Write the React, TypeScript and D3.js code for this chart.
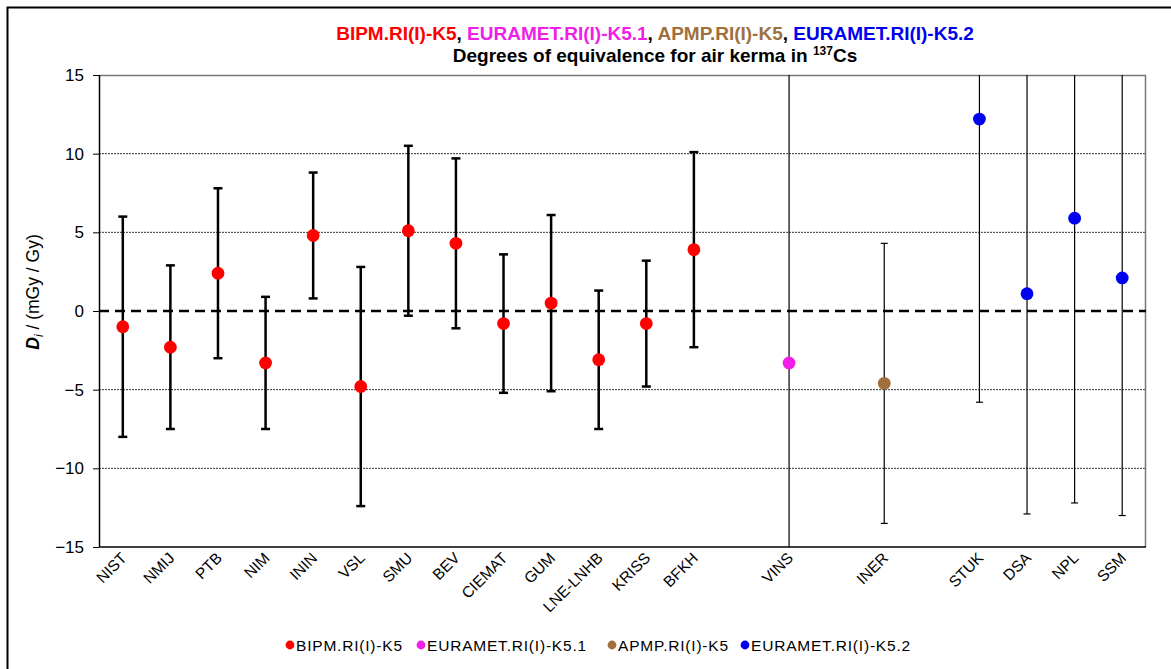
import React, { useEffect, useRef } from 'react';
import * as d3 from 'd3';

// x slots (blank entries are spacers between comparisons)
const slots = ['NIST', 'NMIJ', 'PTB', 'NIM', 'ININ', 'VSL', 'SMU', 'BEV', 'CIEMAT', 'GUM', 'LNE-LNHB', 'KRISS', 'BFKH', ' ', 'VINS', '  ', 'INER', '   ', 'STUK', 'DSA', 'NPL', 'SSM'];

const labs = ['NIST', 'NMIJ', 'PTB', 'NIM', 'ININ', 'VSL', 'SMU', 'BEV', 'CIEMAT', 'GUM', 'LNE-LNHB', 'KRISS', 'BFKH', 'VINS', 'INER', 'STUK', 'DSA', 'NPL', 'SSM'];
const dValues = [-1.0, -2.3, 2.4, -3.3, 4.8, -4.8, 5.1, 4.3, -0.8, 0.5, -3.1, -0.8, 3.9, -3.3, -4.6, 12.2, 1.1, 5.9, 2.1];
const uValues = [7.0, 5.2, 5.4, 4.2, 4.0, 7.6, 5.4, 5.4, 4.4, 5.6, 4.4, 4.0, 6.2, 25.0, 8.9, 18.0, 14.0, 18.1, 15.1];
const groupOf = [0, 0, 0, 0, 0, 0, 0, 0, 0, 0, 0, 0, 0, 1, 2, 3, 3, 3, 3];

const comparisons = ['BIPM.RI(I)-K5', 'EURAMET.RI(I)-K5.1', 'APMP.RI(I)-K5', 'EURAMET.RI(I)-K5.2'];
const compColors = ['#ff0000', '#f01ee6', '#a0703c', '#0000f0'];
const yTicks = [-15, -10, -5, 0, 5, 10, 15];

function App() {
  const ref = useRef<SVGSVGElement>(null);

  useEffect(() => {
    const svg = d3.select(ref.current);
    svg.selectAll('*').remove();
    const font = '"Liberation Sans", Arial, sans-serif';

    const left = 99, right = 1146, top = 75, bottom = 547;
    const x = d3.scaleBand().domain(slots).range([left, right]).padding(0);
    const y = d3.scaleLinear().domain([-15, 15]).range([bottom, top]);
    const cx = (s: string) => (x(s) as number) + x.bandwidth() / 2;

    svg.append('rect').attr('x', 0).attr('y', 0).attr('width', 1171).attr('height', 669).attr('fill', '#fff');
    // outer frame (top/left edges visible)
    svg.append('path').attr('d', 'M7.5,669 V7.5 H1171').attr('fill', 'none').attr('stroke', '#000').attr('stroke-width', 2);

    svg.append('defs').append('clipPath').attr('id', 'plotclip')
      .append('rect').attr('x', left).attr('y', top).attr('width', right - left).attr('height', bottom - top);

    // gridlines
    svg.append('g').selectAll('line')
      .data(yTicks.filter(t => t !== 0 && Math.abs(t) !== 15))
      .enter().append('line')
      .attr('x1', left).attr('x2', right)
      .attr('y1', d => y(d)).attr('y2', d => y(d))
      .attr('stroke', '#333').attr('stroke-width', 1).attr('stroke-dasharray', '2,1');

    // frame
    svg.append('line').attr('x1', left).attr('x2', right).attr('y1', top + 0.5).attr('y2', top + 0.5).attr('stroke', '#777').attr('stroke-width', 1.5);
    svg.append('line').attr('x1', right - 0.5).attr('x2', right - 0.5).attr('y1', top).attr('y2', bottom).attr('stroke', '#777').attr('stroke-width', 1.5);

    // zero line
    svg.append('line').attr('x1', left).attr('x2', right).attr('y1', y(0)).attr('y2', y(0))
      .attr('stroke', '#000').attr('stroke-width', 2.5).attr('stroke-dasharray', '10,6');

    // y axis
    const yAxis = svg.append('g').attr('transform', `translate(${left},0)`)
      .call(d3.axisLeft(y).tickValues(yTicks).tickSize(6).tickPadding(9).tickFormat(d3.format('d')));
    yAxis.select('.domain').remove();
    yAxis.selectAll('line').attr('stroke', '#000');
    yAxis.selectAll('text').attr('font-family', font).attr('font-size', 17).attr('fill', '#000');
    svg.append('line').attr('x1', left + 0.5).attr('x2', left + 0.5).attr('y1', top).attr('y2', bottom).attr('stroke', '#000').attr('stroke-width', 1.5);

    // x axis
    svg.append('line').attr('x1', left).attr('x2', right).attr('y1', bottom).attr('y2', bottom).attr('stroke', '#000').attr('stroke-width', 1.5);
    svg.append('g').selectAll('text')
      .data(slots.filter(s => s.trim() !== ''))
      .enter().append('text')
      .attr('transform', d => `translate(${cx(d) + 5},${bottom + 12}) rotate(-45)`)
      .attr('text-anchor', 'end')
      .attr('font-family', font).attr('font-size', 15.5).attr('fill', '#000')
      .text(d => d);

    // error bars
    const eb = svg.append('g').attr('clip-path', 'url(#plotclip)');
    labs.forEach((lab, i) => {
      const thick = groupOf[i] === 0;
      const sw = thick ? 2.5 : 1.2;
      const cap = thick ? 4.5 : 3.5;
      const xc = cx(lab);
      const hi = dValues[i] + uValues[i];
      const lo = dValues[i] - uValues[i];
      eb.append('line').attr('x1', xc).attr('x2', xc).attr('y1', y(hi)).attr('y2', y(lo)).attr('stroke', '#000').attr('stroke-width', sw);
      [hi, lo].forEach(v => {
        eb.append('line').attr('x1', xc - cap).attr('x2', xc + cap).attr('y1', y(v)).attr('y2', y(v)).attr('stroke', '#000').attr('stroke-width', sw);
      });
    });

    // points
    svg.append('g').selectAll('circle')
      .data(labs)
      .enter().append('circle')
      .attr('cx', d => cx(d))
      .attr('cy', (d, i) => y(dValues[i]))
      .attr('r', 6.4)
      .attr('fill', (d, i) => compColors[groupOf[i]]);

    // title
    const t1 = svg.append('text').attr('x', 655).attr('y', 40).attr('text-anchor', 'middle')
      .attr('font-family', font).attr('font-size', 19).attr('font-weight', 'bold');
    comparisons.forEach((c, i) => {
      t1.append('tspan').attr('fill', compColors[i]).text(c);
      if (i < comparisons.length - 1) t1.append('tspan').attr('fill', '#000').text(', ');
    });
    const t2 = svg.append('text').attr('x', 655).attr('y', 62).attr('text-anchor', 'middle')
      .attr('font-family', font).attr('font-size', 19).attr('font-weight', 'bold').attr('fill', '#000');
    t2.append('tspan').text('Degrees of equivalence for air kerma in ');
    t2.append('tspan').attr('font-size', 12).attr('dy', -7).text('137');
    t2.append('tspan').attr('dy', 7).text('Cs');

    // y label
    const yl = svg.append('text').attr('transform', `translate(39,292) rotate(-90)`).attr('text-anchor', 'middle')
      .attr('font-family', font).attr('font-size', 17.5).attr('fill', '#000');
    yl.append('tspan').attr('font-weight', 'bold').attr('font-style', 'italic').text('D');
    yl.append('tspan').attr('font-style', 'italic').attr('font-size', 12).attr('dy', 4).text('i');
    yl.append('tspan').attr('dy', -4).text(' / (mGy / Gy)');

    // legend
    const legX = [290, 421, 612, 745];
    const leg = svg.append('g');
    comparisons.forEach((c, i) => {
      leg.append('circle').attr('cx', legX[i]).attr('cy', 645).attr('r', 4.4).attr('fill', compColors[i]);
      leg.append('text').attr('x', legX[i] + 6).attr('y', 650.5).attr('font-family', font).attr('font-size', 15.5)
        .attr('letter-spacing', 0.8).attr('fill', '#000').text(c);
    });
  }, []);

  return (
    <svg ref={ref} width={1171} height={669} style={{ position: 'absolute', left: 0, top: 0 }} />
  );
}

export default App;
